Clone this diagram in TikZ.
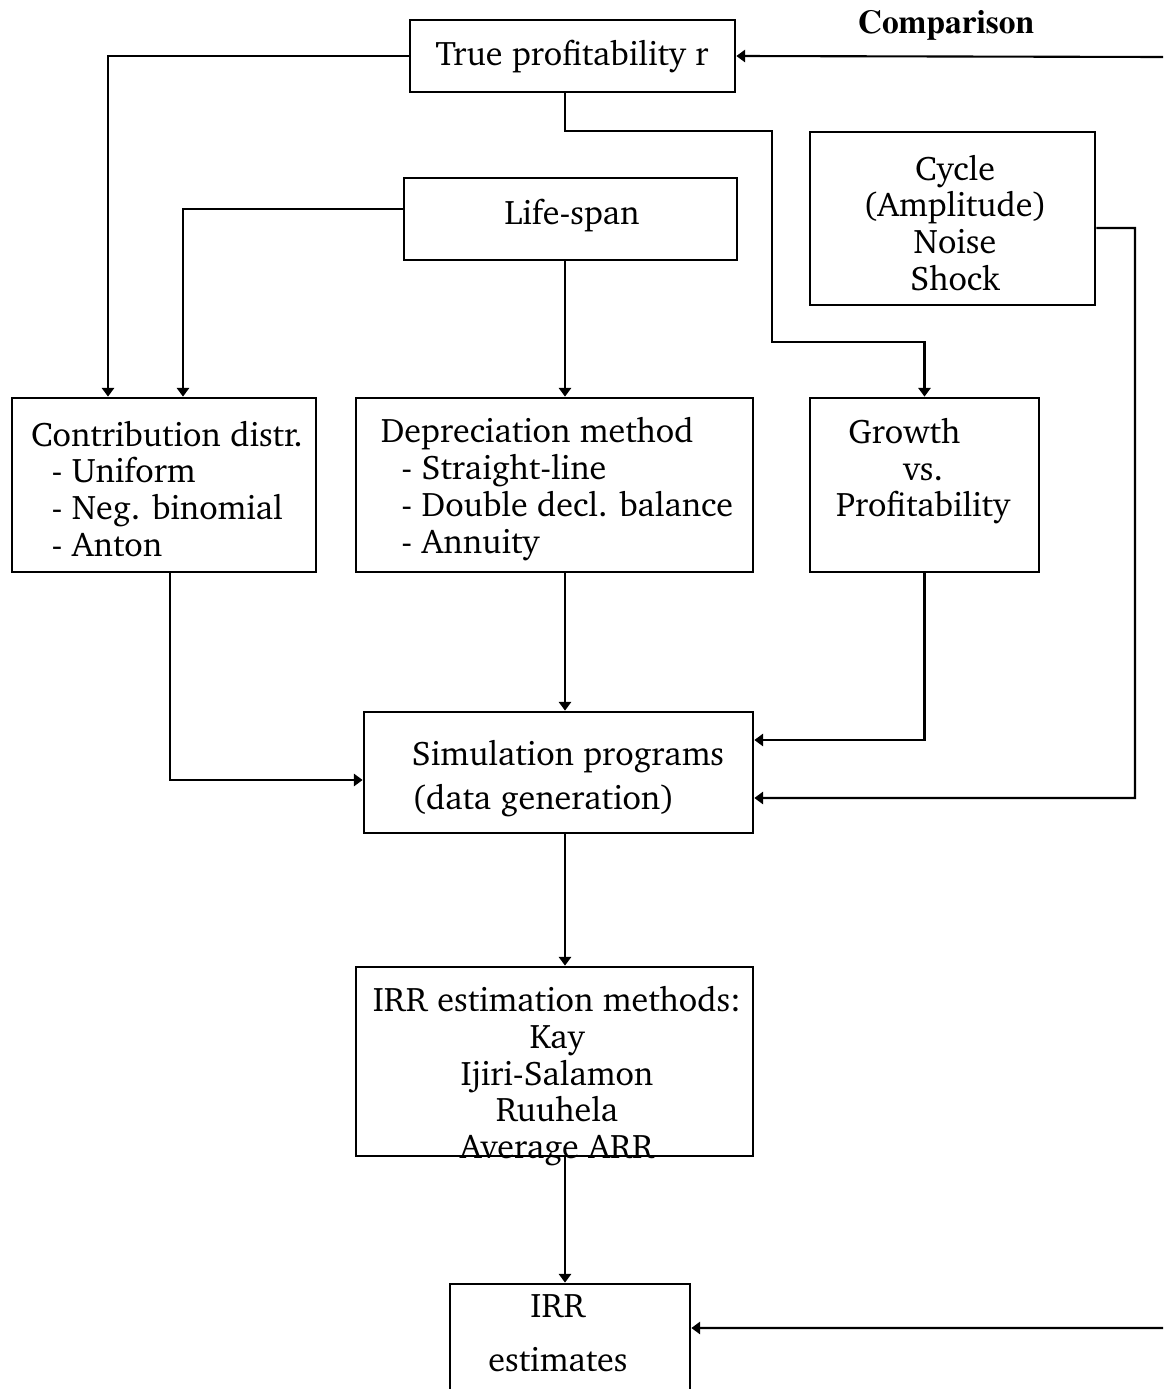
\documentclass[tikz,border=0pt]{standalone}
\usepackage[T1]{fontenc}
\usepackage{charter}
\usepackage{tikz}
\usetikzlibrary{positioning}
\usetikzlibrary{arrows.meta}

\begin{document}
\begin{tikzpicture}[x=0.02cm,y=-0.02cm,
    box node/.style={draw,line width=1.6pt,inner sep=0pt},
    text node/.style={font=\fontsize{19.4}{21}\selectfont,inner sep=0pt,align=center},
    link/.style={line width=1.2pt,-{Triangle[length=5pt,width=7pt]}}]
    \useasboundingbox (0,0) rectangle (1163,1389);

    \node[box node,minimum width=6.5cm,minimum height=1.44cm] (r) at (572.5,56) {};
    \node[box node,minimum width=6.66cm,minimum height=1.64cm] (life) at (570.5,219) {};
    \node[box node,minimum width=5.7cm,minimum height=3.46cm] (cycle) at (952.5,218.5) {};
    \node[box node,minimum width=6.08cm,minimum height=3.48cm] (contrib) at (164,485) {};
    \node[box node,minimum width=7.94cm,minimum height=3.48cm] (deprec) at (554.5,485) {};
    \node[box node,minimum width=4.58cm,minimum height=3.48cm] (growth) at (924.5,485) {};
    \node[box node,minimum width=7.78cm,minimum height=2.42cm] (sim) at (558.5,772.5) {};
    \node[box node,minimum width=7.94cm,minimum height=3.78cm] (irrm) at (554.5,1061.5) {};
    \node[box node,minimum width=4.8cm,minimum height=2.24cm] (irre) at (570,1340) {};

    \node[text node] (r text) at (572,56) {True profitability r};
    \node[text node] (life text) at (572,215) {Life-span};
    \node[text node] (cycle text) at (955,223) {Cycle\\(Amplitude)\\Noise\\Shock};
    \node[text node,align=left] (contrib text) at (167,489)
        {Contribution distr.\\\hspace*{0.6em}- Uniform\\\hspace*{0.6em}- Neg. binomial\\\hspace*{0.6em}- Anton};
    \node[text node,align=left] (deprec text) at (557,489)
        {Depreciation method\\\hspace*{0.6em}- Straight-line\\\hspace*{0.6em}- Double decl. balance\\\hspace*{0.6em}- Annuity};
    \node[text node] (growth text) at (923,471)
        {Growth\hspace*{1.1em}\\vs.\hspace*{0.5em}\\Profitability};
    \node[text node,align=left] (sim text) at (568,778) {Simulation programs\\[4pt](data generation)};
    \node[text node] (irrm text) at (557,1076) {IRR estimation methods:\\Kay\\Ijiri-Salamon\\Ruuhela\\Average ARR};
    \node[text node] (irre text) at (558,1333) {IRR\\[10pt]estimates};
    \node[font=\fontfamily{ptm}\bfseries\fontsize{19}{22}\selectfont,inner sep=0pt] (cmp) at (946,25) {Comparison};

    \coordinate (spine) at (565,0);
    \coordinate (cmp top) at (1163,57);
    \coordinate (cmp bot) at (1163,1328);

    \draw[link] (r.west) -| ([xshift=-1.12cm]contrib.north);
    \draw[link] ([yshift=0.2cm]life.west) -| ([xshift=0.38cm]contrib.north);
    \draw[link] (life.south -| spine) -- (deprec.north -| spine);
    \draw[link] (r.south -| spine) -- ++(0,38) -| (772,342) -| (growth.north);
    \draw[link] ([yshift=-0.19cm]cycle.east) -| (1135,798) -- ([yshift=-0.51cm]sim.east);
    \draw[link] (growth.south) |- ([yshift=0.65cm]sim.east);
    \draw[link] ([xshift=0.12cm]contrib.south) |- ([yshift=-0.15cm]sim.west);
    \draw[link] (deprec.south -| spine) -- (sim.north -| spine);
    \draw[link] (sim.south -| spine) -- (irrm.north -| spine);
    \draw[link] (irrm.south -| spine) -- (irre.north -| spine);
    \draw[link] (cmp top) -- (r.east);
    \draw[link] (cmp bot) -- ([yshift=0.24cm]irre.east);
\end{tikzpicture}
\end{document}
